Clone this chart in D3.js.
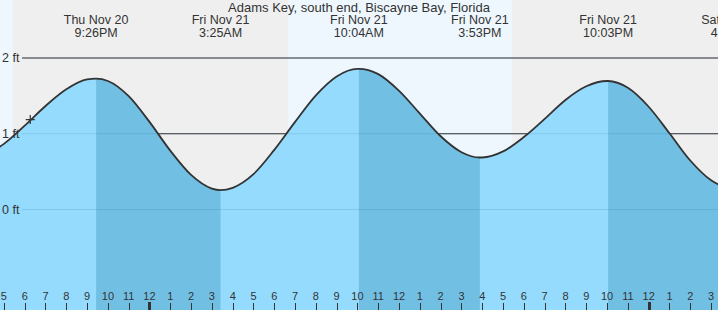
<!DOCTYPE html>
<meta charset="utf-8">
<style>
    body { margin: 0; background: #fff; }
    svg { display: block; font-family: "Liberation Sans", Arial, sans-serif; }
    .hdr text { fill: #333; text-anchor: middle; }
</style>
<svg width="718" height="310"></svg>
<script src="https://d3js.org/d3.v7.min.js"></script>
<script>

    var title = "Adams Key, south end, Biscayne Bay, Florida";

    // high / low tides (time, feet)
    var hiloTimes = ["2025-11-20 15:15", "2025-11-20 21:26", "2025-11-21 03:25", "2025-11-21 10:04",
                     "2025-11-21 15:53", "2025-11-21 22:03", "2025-11-22 04:01"];
    var hiloHeights = [0.66, 1.72, 0.25, 1.85, 0.68, 1.69, 0.28];

    // hourly heights, starting Thu Nov 20 4PM
    var hourlyStart = "2025-11-20 16:00";
    var hourlyHeights = [0.70, 0.86, 1.10, 1.36, 1.58, 1.71, 1.69, 1.49, 1.15, 0.77,
                         0.45, 0.27, 0.28, 0.46, 0.78, 1.15, 1.50, 1.75, 1.85, 1.78,
                         1.56, 1.26, 0.96, 0.75, 0.68, 0.76, 0.95, 1.19, 1.44, 1.62,
                         1.69, 1.60, 1.35, 1.00, 0.64, 0.38, 0.28];

    // sun: [sunrise, sunset] daylight spans
    var dayStarts = ["2025-11-20 06:40", "2025-11-21 06:40"];
    var dayEnds   = ["2025-11-20 17:26", "2025-11-21 17:26"];

    var nowTime = "2025-11-20 18:16";
    var nowHeight = 1.18;

    var yTicks = [0, 1, 2];

    var parse = d3.timeParse("%Y-%m-%d %H:%M");

    var svg = d3.select("svg"),
        width = +svg.attr("width"),
        height = +svg.attr("height");

    var x = d3.scaleTime()
        .domain([new Date(2025, 10, 20, 16, 48, 45), new Date(2025, 10, 22, 3, 20, 0)])
        .range([0, width]);

    var y = d3.scaleLinear()
        .domain([0, 2])
        .range([209, 57.5]);

    var hilo = hiloTimes.map(function(t, i) { return {t: parse(t), v: hiloHeights[i]}; });
    var t0 = parse(hourlyStart);
    var hourly = hourlyHeights.map(function(v, i) { return {t: d3.timeHour.offset(t0, i), v: v}; });
    var pts = hourly.concat(hilo).sort(function(a, b) { return a.t - b.t; });

    // background: night gray, day pale blue
    svg.append("rect").attr("width", width).attr("height", height).attr("fill", "#efefef");
    svg.append("g").selectAll("rect")
        .data(dayStarts)
        .enter().append("rect")
        .attr("x", function(d) { return x(parse(d)); })
        .attr("width", function(d, i) { return x(parse(dayEnds[i])) - x(parse(d)); })
        .attr("y", 0)
        .attr("height", height)
        .attr("fill", "#eef7fe");

    // grid lines (behind the water)
    svg.append("g").selectAll("line")
        .data(yTicks)
        .enter().append("line")
        .attr("x1", 22).attr("x2", width)
        .attr("y1", function(d) { return y(d) + 0.5; })
        .attr("y2", function(d) { return y(d) + 0.5; })
        .attr("stroke", "#333");

    var area = d3.area()
        .curve(d3.curveMonotoneX)
        .x(function(d) { return x(d.t); })
        .y0(height)
        .y1(function(d) { return y(d.v); });

    var line = d3.line()
        .curve(d3.curveMonotoneX)
        .x(function(d) { return x(d.t); })
        .y(function(d) { return y(d.v); });

    svg.append("path").datum(pts).attr("d", area).attr("fill", "#95dbfd");

    // falling tide: darker water from each high to the next low
    var defs = svg.append("defs");
    hilo.forEach(function(d, i) {
        if (i + 1 >= hilo.length || d.v < hilo[i + 1].v) return;
        var id = "fall" + i;
        defs.append("clipPath").attr("id", id)
            .append("rect")
            .attr("x", x(d.t))
            .attr("width", x(hilo[i + 1].t) - x(d.t))
            .attr("y", 0).attr("height", height);
        svg.append("path").datum(pts)
            .attr("d", area)
            .attr("clip-path", "url(#" + id + ")")
            .attr("fill", "#71c0e4");
    });

    // faint grid through the water
    svg.append("g").selectAll("line")
        .data(yTicks)
        .enter().append("line")
        .attr("x1", 22).attr("x2", width)
        .attr("y1", function(d) { return y(d) + 0.5; })
        .attr("y2", function(d) { return y(d) + 0.5; })
        .attr("stroke", "rgba(0,70,130,0.13)");

    svg.append("path").datum(pts)
        .attr("d", line)
        .attr("fill", "none")
        .attr("stroke", "#333")
        .attr("stroke-width", 1.8);

    // y labels
    svg.append("g").selectAll("text")
        .data(yTicks)
        .enter().append("text")
        .attr("x", 2)
        .attr("y", function(d) { return y(d) + 4.5; })
        .attr("fill", "#333")
        .style("font-size", "12.5px")
        .text(function(d) { return d + " ft"; });

    // title + hi/lo labels
    svg.append("text")
        .attr("x", width / 2).attr("y", 12)
        .attr("text-anchor", "middle")
        .attr("fill", "#333")
        .style("font-size", "13px")
        .text(title);

    var fDay = d3.timeFormat("%a %b %-d"),
        fTime = d3.timeFormat("%-I:%M%p");
    // only label tides whose time falls on the chart
    var shown = hilo.filter(function(d) { return x(d.t) >= 0; });
    var hdr = svg.append("g").attr("class", "hdr").style("font-size", "12.5px");
    hdr.selectAll(".d").data(shown).enter().append("text")
        .attr("x", function(d) { return x(d.t); }).attr("y", 24)
        .text(function(d) { return fDay(d.t); });
    hdr.selectAll(".tm").data(shown).enter().append("text")
        .attr("x", function(d) { return x(d.t); }).attr("y", 37)
        .text(function(d) { return fTime(d.t); });

    // hour axis
    var hours = x.ticks(d3.timeHour.every(1));
    var ax = svg.append("g").style("font-size", "11px");
    ax.selectAll("text").data(hours).enter().append("text")
        .attr("x", function(d) { return x(d); })
        .attr("y", 300)
        .attr("text-anchor", "middle")
        .attr("fill", "#333")
        .text(d3.timeFormat("%-I"));
    ax.selectAll("line").data(hours).enter().append("line")
        .attr("x1", function(d) { return Math.round(x(d)) + 0.5; })
        .attr("x2", function(d) { return Math.round(x(d)) + 0.5; })
        .attr("y1", function(d) { return d.getHours() === 0 ? 302 : 303; })
        .attr("y2", height)
        .attr("stroke", "#333")
        .attr("stroke-width", function(d) { return d.getHours() === 0 ? 3 : 1; });

    // current time marker
    var nx = x(parse(nowTime)), ny = y(nowHeight);
    svg.append("path")
        .attr("d", "M" + (nx - 4.5) + "," + ny + "H" + (nx + 4.5) + "M" + nx + "," + (ny - 4.5) + "V" + (ny + 4.5))
        .attr("stroke", "#333")
        .attr("stroke-width", 1.2);

</script>
